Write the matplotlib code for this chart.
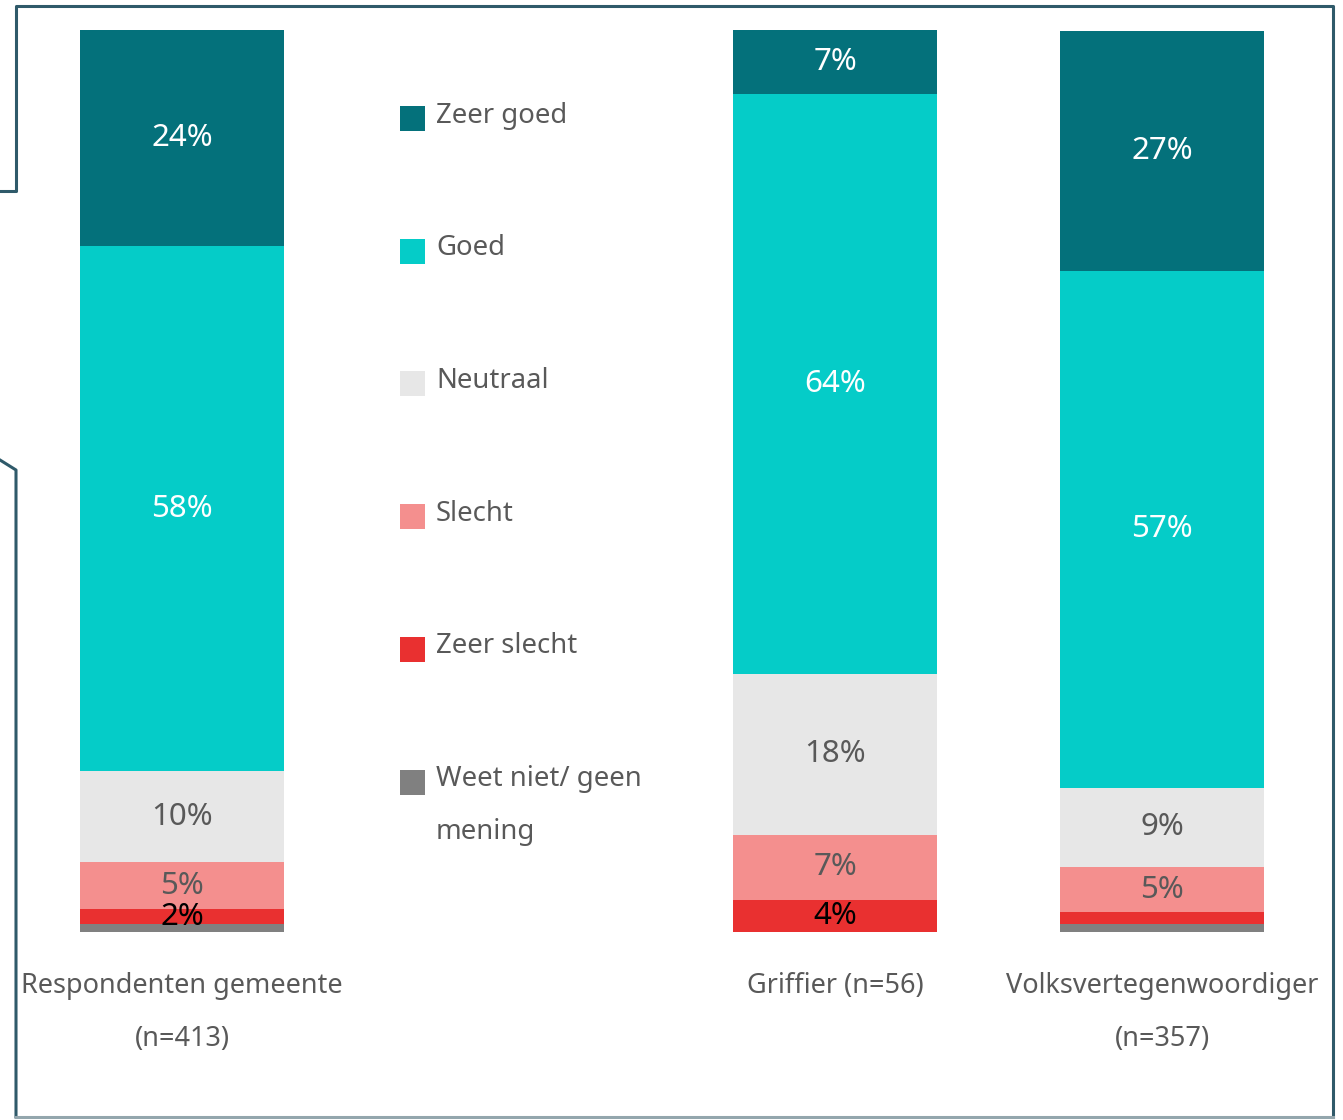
import matplotlib
matplotlib.use("Agg")
import matplotlib.pyplot as plt
from matplotlib.lines import Line2D
from matplotlib.patches import Rectangle

plt.rcParams["font.family"] = ["Noto Sans", "DejaVu Sans"]

groups = ["Respondenten gemeente\n(n=413)", "Griffier (n=56)", "Volksvertegenwoordiger\n(n=357)"]
group_pos = [0, 2, 3]

answers = ["Zeer goed", "Goed", "Neutraal", "Slecht", "Zeer slecht", "Weet niet/ geen\nmening"]
colors = ["#04717b", "#05ccc8", "#e7e7e7", "#f48f8e", "#e93030", "#808080"]
label_colors = ["white", "white", "#595959", "#595959", "black", "black"]

# share per answer, bars stacked top (zeer goed) to bottom (weet niet)
zeer_goed = [23.9, 7.1, 26.6]
goed = [58.3, 64.3, 57.3]
neutraal = [10.0, 17.8, 8.8]
slecht = [5.3, 7.2, 5.0]
zeer_slecht = [1.6, 3.6, 1.3]
weet_niet = [0.9, 0.0, 0.9]

series = [zeer_goed, goed, neutraal, slecht, zeer_slecht, weet_niet]

W, H = 1343, 1120
fig = plt.figure(figsize=(W / 100, H / 100), dpi=100)
ax = fig.add_axes([18.5 / W, 1 - 932 / H, 1307 / W, 902 / H])

# stack from the bottom: last series at the bottom
bottoms = [0.0] * len(groups)
for k in range(len(series) - 1, -1, -1):
    vals = series[k]
    ax.bar(group_pos, vals, bottom=bottoms, width=0.624, color=colors[k], linewidth=0)
    for i, v in enumerate(vals):
        if v >= 1.5:
            ax.text(group_pos[i], bottoms[i] + v / 2, "%d%%" % round(v),
                    ha="center", va="center", fontsize=22.5, color=label_colors[k])
    bottoms = [b + v for b, v in zip(bottoms, vals)]

ax.set_xlim(-0.5, 3.5)
ax.set_ylim(0, 100)
ax.set_yticks([])
ax.set_xticks(group_pos, groups)
ax.tick_params(axis="x", length=0, pad=29, labelsize=19.5, labelcolor="#595959")
for t in ax.get_xticklabels():
    t.set_linespacing(2.2)
for s in ax.spines.values():
    s.set_visible(False)

# legend drawn by hand in the empty slot between the bars
for k, name in enumerate(answers):
    cy = 118.5 + k * 132.7
    fig.add_artist(Rectangle((400 / W, 1 - (cy + 12.5) / H), 25 / W, 25 / H,
                             transform=fig.transFigure, color=colors[k], linewidth=0))
    lines = name.split("\n")
    for j, line in enumerate(lines):
        fig.text(436 / W, 1 - (cy + 4 + j * 53) / H, line, ha="left", va="baseline",
                 fontsize=19.8, color="#595959")

# frame around the chart (crop of a larger slide)
frame = "#2f5a6a"
pts = [(0, 191), (16, 191), (16, 6), (1333, 6), (1333, 1117)]
fig.add_artist(Line2D([p[0] / W for p in pts], [1 - p[1] / H for p in pts],
                      transform=fig.transFigure, color=frame, linewidth=2.2))
pts = [(0, 460), (16, 470), (16, 1117)]
fig.add_artist(Line2D([p[0] / W for p in pts], [1 - p[1] / H for p in pts],
                      transform=fig.transFigure, color=frame, linewidth=2.2))
fig.add_artist(Line2D([16 / W, 1333 / W], [1 - 1117 / H, 1 - 1117 / H],
                      transform=fig.transFigure, color="#93a6ad", linewidth=2.2))

fig.savefig("out.png", dpi=100)
